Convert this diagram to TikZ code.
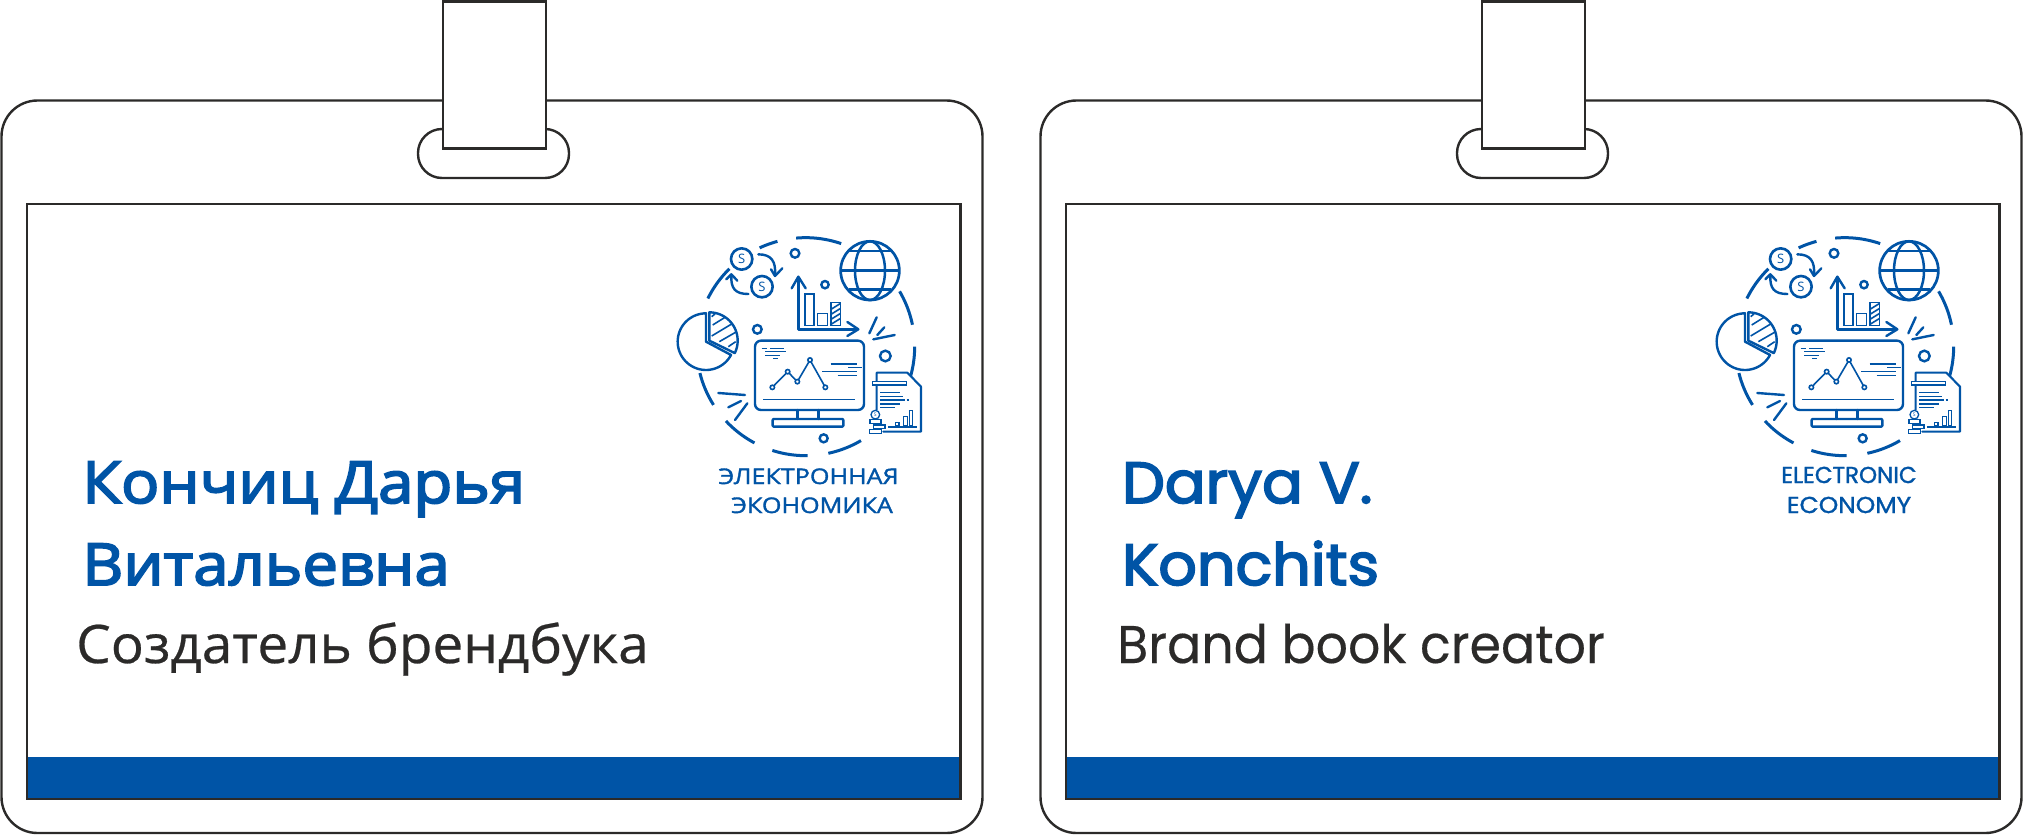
\documentclass[tikz,border=0pt]{standalone}
\usepackage{fontspec}
\setmainfont{Open Sans}
\newfontfamily\namefont[FakeStretch=1.095,FakeBold=3.2]{Open Sans}
\newfontfamily\rolefont[FakeStretch=1.035,FakeBold=0.5]{Open Sans}
\newfontfamily\logofont[FakeStretch=1.17,FakeBold=1.6]{Open Sans}
\newfontfamily\enname[FakeStretch=1.04,FakeBold=3]{Poppins}
\newfontfamily\enrole[FakeStretch=0.955,FakeBold=0.3]{Poppins}
\newfontfamily\enlogo[FakeStretch=1.08,FakeBold=1.4]{Poppins}
\newfontfamily\enlogonarrow[FakeStretch=1.0,FakeBold=1.4]{Poppins}
\definecolor{brandblue}{HTML}{0054A6}
\definecolor{inkdark}{HTML}{2B2A29}
\tikzset{
  outline/.style={draw=inkdark,line width=2.4pt},
  thinline/.style={draw=brandblue,line width=1.6pt},
  midline/.style={draw=brandblue,line width=2.4pt,line cap=round,line join=round},
  ringline/.style={draw=brandblue,line width=3pt},
  dotring/.style={draw=brandblue,line width=2.4pt,fill=white},
  banner/.style={anchor=base west,inner sep=0pt,text=brandblue},
  rolestyle/.style={anchor=base west,inner sep=0pt,text=inkdark},
  logotext/.style={anchor=base,inner sep=0pt,text=brandblue},
}
% badge frame, #1 = horizontal offset
\newcommand{\badgeframe}[1]{%
  \begin{scope}[shift={(#1,0)}]
    \draw[outline,rounded corners=36pt] (1.5,100.5) rectangle (982.5,833);
    \draw[outline,fill=white,rounded corners=24pt] (418,129) rectangle (569,178);
    \draw[outline,fill=white] (443,1.5) rectangle (546,148.5);
    \fill[brandblue] (27,757) rectangle (960.5,799);
    \draw[outline] (27,204) rectangle (960.5,799);
  \end{scope}}
\newcommand{\ringarc}[2]{\draw[ringline] plot[domain=#1:#2,samples=20] ({437+327*cos(\x)},{380+327*sin(\x)});}
% logo in 3x zoom coordinates; #1 offset, #2 name prefix
\newcommand{\logomark}[2]{%
  \begin{scope}[shift={(660+#1,220)}]
  \begin{scope}[x=0.33333pt,y=-0.33333pt]
    % ring
    \ringarc{-153.8}{-134.4}
    \ringarc{-115}{-105}
    \ringarc{-95}{-71}
    \ringarc{-30.5}{-11.6}
    \ringarc{0}{16}
    \ringarc{59.5}{78}
    \ringarc{89}{107.8}
    \ringarc{118}{137}
    \ringarc{147.7}{166}
    % dots
    \draw[dotring] (405,100) circle[radius=13];
    \draw[dotring] (495,194) circle[radius=11];
    \draw[dotring] (292,328) circle[radius=13];
    \draw[dotring] (676,408) circle[radius=16];
    \draw[dotring] (491,655) circle[radius=12];
    % coins
    \draw[dotring,line width=2.6pt] (245,117) circle[radius=32];
    \draw[dotring,line width=2.6pt] (306,200) circle[radius=32];
    \node[inner sep=0pt,text=brandblue,font=\fontsize{13}{13}\selectfont] (#2coinA) at (245,117) {S};
    \node[inner sep=0pt,text=brandblue,font=\fontsize{13}{13}\selectfont] (#2coinB) at (306,200) {S};
    \draw[midline] (295,103) .. controls (335,103) and (348,125) .. (345,165);
    \draw[midline] (333,148) -- (345,168) -- (367,145);
    \draw[midline] (265,222) .. controls (225,222) and (212,205) .. (214,165);
    \draw[midline] (199,178) -- (214,163) -- (232,182);
    % globe
    \draw[ringline,line width=2.7pt,fill=white] (630,152) circle[radius=88];
    \draw[ringline,line width=2.5pt] (630,152) ellipse[x radius=45,y radius=88];
    \draw[ringline,line width=2.5pt] (542,152) -- (718,152);
    \draw[ringline,line width=2.5pt] (566,93) -- (694,93);
    \draw[ringline,line width=2.5pt] (566,209) -- (694,209);
    % axes
    \draw[midline,line cap=butt] (415,172) -- (415,328) -- (593,328);
    \draw[midline] (395,205) -- (415,170) -- (437,205);
    \draw[midline] (562,306) -- (595,328) -- (562,348);
    \draw[thinline] (435,222) rectangle (462,317);
    \draw[thinline] (473,280) rectangle (502,317);
    \draw[thinline] (513,247) rectangle (542,317);
    \begin{scope}
      \clip (513,247) rectangle (542,317);
      \draw[thinline] (513,268) -- (542,250);
      \draw[thinline] (513,283) -- (542,265);
      \draw[thinline] (513,298) -- (542,280);
      \draw[thinline] (513,313) -- (542,295);
    \end{scope}
    % pie
    \draw[midline] plot[domain=-90:-332,samples=50] ({138+85*cos(\x)},{365+85*sin(\x)}) -- (138,365) -- cycle;
    \draw[midline] plot[domain=-90:26,samples=30] ({148+85*cos(\x)},{362+85*sin(\x)}) -- (148,362) -- cycle;
    \draw[thinline] (155,290) -- (165,282);
    \draw[thinline] (158,315) -- (195,292);
    \draw[thinline] (155,348) -- (215,312);
    \draw[thinline] (178,365) -- (230,335);
    \draw[thinline] (205,380) -- (227,365);
    % monitor
    \draw[midline,rounded corners=6pt] (285,362) rectangle (612,570);
    \draw[midline] (413,570) -- (413,597);
    \draw[midline] (475,570) -- (475,597);
    \draw[midline,rounded corners=1pt] (338,597) rectangle (550,620);
    \draw[thinline] (310,538) -- (585,538);
    \draw[thinline] (337,502) -- (383,455) -- (412,485) -- (450,420) -- (496,502);
    \foreach \p in {(337,502),(383,455),(412,485),(450,420),(496,502)}
      \draw[thinline,fill=white] \p circle[radius=6.5];
    \foreach \a/\b/\c in {305/320/385,330/372/385,315/378/395,315/360/407,340/355/416,
                          512/590/432,565/605/443,487/590/455,533/590/466}
      \draw[thinline,line width=1.2pt] (\a,\c) -- (\b,\c);
    % sparks
    \draw[midline] (628,340) -- (650,292);
    \draw[midline] (652,345) -- (673,322);
    \draw[midline] (640,358) -- (704,345);
    \draw[midline] (175,519) -- (255,525);
    \draw[midline] (205,562) -- (243,543);
    \draw[midline] (225,600) -- (262,550);
    % document
    \draw[midline,fill=white,line width=2.1pt] (650,570) -- (650,458) -- (742,458) -- (783,500) -- (783,635) -- (670,635);
    \draw[thinline,line width=1.6pt,fill=white] (638,484) rectangle (740,495);
    \foreach \a/\b/\c in {660/720/518,660/730/530,660/735/540,740/747/540,660/720/552,660/705/562}
      \draw[thinline,line width=1.2pt] (\a,\c) -- (\b,\c);
    \draw[thinline,line width=1.2pt] (685,621) -- (770,621);
    \draw[thinline,line width=1.3pt] (707,607) rectangle (717,617);
    \draw[thinline,line width=1.3pt] (730,590) rectangle (742,617);
    \draw[thinline,line width=1.3pt] (748,572) rectangle (758,617);
    \draw[thinline,line width=1.3pt,fill=white] (646,584) circle[radius=13];
    \node[inner sep=0pt,text=brandblue,font=\fontsize{5}{5}\selectfont] (#2coinC) at (646,584) {S};
    \draw[thinline,line width=1.3pt,fill=white] (630,599) rectangle (663,610);
    \draw[thinline,line width=1.3pt,fill=white] (640,615) rectangle (675,626);
    \draw[thinline,line width=1.3pt,fill=white] (628,628) rectangle (665,640);
  \end{scope}
  \end{scope}}
\begin{document}
\begin{tikzpicture}[x=1pt,y=-1pt]
  \useasboundingbox (0,0) rectangle (2024,835);
  \fill[white] (0,0) rectangle (2024,835);
  \badgeframe{0}
  \badgeframe{1039}
  \logomark{0}{a}
  \logomark{1039}{b}
  % left texts
  \node[banner,font=\namefont\fontsize{58}{58}\selectfont] (nameA) at (82,503) {Кончиц Дарья};
  \node[banner,font=\namefont\fontsize{58}{58}\selectfont] (nameB) at (82,585) {Витальевна};
  \node[rolestyle,font=\rolefont\fontsize{53}{53}\selectfont] (roleA) at (76,663) {Создатель брендбука};
  \node[logotext,font=\logofont\fontsize{21.5}{21.5}\selectfont] (logoA) at (808.5,484) {ЭЛЕКТРОННАЯ};
  \node[logotext,font=\logofont\fontsize{21.5}{21.5}\selectfont] (logoB) at (812,513) {ЭКОНОМИКА};
  % right texts
  \node[banner,font=\enname\fontsize{58}{58}\selectfont] (nameC) at (1122,503) {Darya V.};
  \node[banner,font=\enname\fontsize{58}{58}\selectfont] (nameD) at (1122,585) {Konchits};
  \node[rolestyle,font=\enrole\fontsize{53}{53}\selectfont] (roleB) at (1117,663) {Brand book creator};
  \node[logotext,font=\enlogonarrow\fontsize{23}{23}\selectfont] (logoC) at (1849,483) {ELECTRONIC};
  \node[logotext,font=\enlogo\fontsize{23}{23}\selectfont] (logoD) at (1849,513) {ECONOMY};
\end{tikzpicture}
\end{document}
